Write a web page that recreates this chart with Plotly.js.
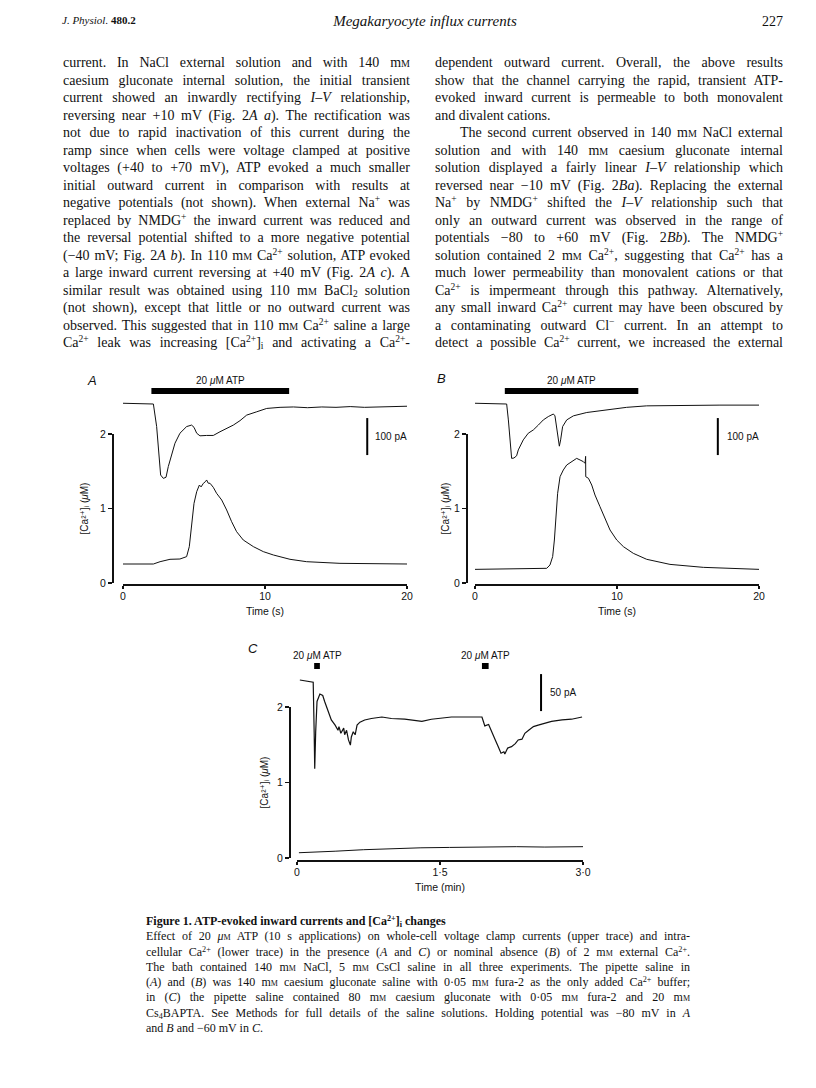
<!DOCTYPE html>
<html><head><meta charset="utf-8">
<script src="https://cdn.plot.ly/plotly-3.0.1.min.js"></script>
<style>
html,body{margin:0;padding:0;background:#fff;}
#page{position:relative;width:816px;height:1088px;overflow:hidden;background:#fff;}
#chart{position:absolute;left:0;top:0;width:816px;height:1088px;}
.txt{position:absolute;font-family:"Liberation Serif","DejaVu Serif",serif;color:#111;}
.col{font-size:14px;}
.col .ln{height:17.5px;line-height:17.5px;}
.ln{text-align:justify;text-align-last:justify;white-space:nowrap;}
.ln.last{text-align-last:left;}
.ind{text-indent:25px;}
.sc{font-variant:small-caps;}
sup,sub{font-size:0.68em;}
sup{vertical-align:0.5em;line-height:1;}
sub{vertical-align:-0.25em;line-height:1;}
.cap{font-size:12px;}
.cap .ln{height:15.3px;line-height:15.3px;}
</style></head>
<body>
<div id="page">
<div id="chart"></div>

<div class="txt" style="left:62px;top:14px;font-size:11px;"><i>J. Physiol.</i> <b>480.2</b></div>
<div class="txt" style="left:300px;top:13px;width:250px;text-align:center;font-size:15px;"><i>Megakaryocyte influx currents</i></div>
<div class="txt" style="left:700px;top:14px;width:83px;text-align:right;font-size:14px;">227</div>

<div class="txt col" style="left:63px;top:54px;width:347px;">
<div class="ln">current. In NaCl external solution and with 140 m<span class="sc">m</span></div>
<div class="ln">caesium gluconate internal solution, the initial transient</div>
<div class="ln">current showed an inwardly rectifying <i>I</i>–<i>V</i> relationship,</div>
<div class="ln">reversing near +10 mV (Fig. 2<i>A a</i>). The rectification was</div>
<div class="ln">not due to rapid inactivation of this current during the</div>
<div class="ln">ramp since when cells were voltage clamped at positive</div>
<div class="ln">voltages (+40 to +70 mV), ATP evoked a much smaller</div>
<div class="ln">initial outward current in comparison with results at</div>
<div class="ln">negative potentials (not shown). When external Na<sup>+</sup> was</div>
<div class="ln">replaced by NMDG<sup>+</sup> the inward current was reduced and</div>
<div class="ln">the reversal potential shifted to a more negative potential</div>
<div class="ln">(−40 mV; Fig. 2<i>A b</i>). In 110 m<span class="sc">m</span> Ca<sup>2+</sup> solution, ATP evoked</div>
<div class="ln">a large inward current reversing at +40 mV (Fig. 2<i>A c</i>). A</div>
<div class="ln">similar result was obtained using 110 m<span class="sc">m</span> BaCl<sub>2</sub> solution</div>
<div class="ln">(not shown), except that little or no outward current was</div>
<div class="ln">observed. This suggested that in 110 m<span class="sc">m</span> Ca<sup>2+</sup> saline a large</div>
<div class="ln">Ca<sup>2+</sup> leak was increasing [Ca<sup>2+</sup>]<sub>i</sub> and activating a Ca<sup>2+</sup>-</div>
</div>

<div class="txt col" style="left:435px;top:54px;width:348px;">
<div class="ln">dependent outward current. Overall, the above results</div>
<div class="ln">show that the channel carrying the rapid, transient ATP-</div>
<div class="ln">evoked inward current is permeable to both monovalent</div>
<div class="ln last">and divalent cations.</div>
<div class="ln ind">The second current observed in 140 m<span class="sc">m</span> NaCl external</div>
<div class="ln">solution and with 140 m<span class="sc">m</span> caesium gluconate internal</div>
<div class="ln">solution displayed a fairly linear <i>I</i>–<i>V</i> relationship which</div>
<div class="ln">reversed near −10 mV (Fig. 2<i>Ba</i>). Replacing the external</div>
<div class="ln">Na<sup>+</sup> by NMDG<sup>+</sup> shifted the <i>I</i>–<i>V</i> relationship such that</div>
<div class="ln">only an outward current was observed in the range of</div>
<div class="ln">potentials −80 to +60 mV (Fig. 2<i>Bb</i>). The NMDG<sup>+</sup></div>
<div class="ln">solution contained 2 m<span class="sc">m</span> Ca<sup>2+</sup>, suggesting that Ca<sup>2+</sup> has a</div>
<div class="ln">much lower permeability than monovalent cations or that</div>
<div class="ln">Ca<sup>2+</sup> is impermeant through this pathway. Alternatively,</div>
<div class="ln">any small inward Ca<sup>2+</sup> current may have been obscured by</div>
<div class="ln">a contaminating outward Cl<sup>−</sup> current. In an attempt to</div>
<div class="ln">detect a possible Ca<sup>2+</sup> current, we increased the external</div>
</div>

<div class="txt cap" style="left:146px;top:914px;width:544px;">
<div class="ln last"><b>Figure 1. ATP-evoked inward currents and [Ca<sup>2+</sup>]<sub>i</sub> changes</b></div>
<div class="ln">Effect of 20 <i>μ</i><span class="sc">m</span> ATP (10 s applications) on whole-cell voltage clamp currents (upper trace) and intra-</div>
<div class="ln">cellular Ca<sup>2+</sup> (lower trace) in the presence (<i>A</i> and <i>C</i>) or nominal absence (<i>B</i>) of 2 m<span class="sc">m</span> external Ca<sup>2+</sup>.</div>
<div class="ln">The bath contained 140 m<span class="sc">m</span> NaCl, 5 m<span class="sc">m</span> CsCl saline in all three experiments. The pipette saline in</div>
<div class="ln">(<i>A</i>) and (<i>B</i>) was 140 m<span class="sc">m</span> caesium gluconate saline with 0·05 m<span class="sc">m</span> fura-2 as the only added Ca<sup>2+</sup> buffer;</div>
<div class="ln">in (<i>C</i>) the pipette saline contained 80 m<span class="sc">m</span> caesium gluconate with 0·05 m<span class="sc">m</span> fura-2 and 20 m<span class="sc">m</span></div>
<div class="ln">Cs<sub>4</sub>BAPTA. See Methods for full details of the saline solutions. Holding potential was −80 mV in <i>A</i></div>
<div class="ln last">and <i>B</i> and −60 mV in <i>C</i>.</div>
</div>
</div>

<script>
// ---------- data ----------
// Panel A: membrane current (pA) and [Ca2+]i (uM) vs time (s)
const tA_i = [0, 1, 2.14, 2.37, 2.49, 2.65, 2.84, 3.03, 3.19, 3.43, 3.66, 4.01, 4.48, 4.83, 5.0, 5.19, 5.42, 5.89, 6.36, 6.83, 7.30, 7.77, 8.24, 8.71, 9.42, 10.12, 11.06, 12, 13, 14, 15, 16, 17, 18, 19, 20];
const iA   = [2, 1, 0, -61, -124, -192, -201, -198, -169, -133, -106, -79, -61, -57, -63, -79, -86, -85, -85, -75, -66, -57, -45, -30, -21, -12, -9, -8, -10, -8, -9, -7, -9, -8, -7, -6];
const tA_ca = [0, 2.14, 2.61, 3.31, 4.01, 4.48, 4.67, 4.83, 5.0, 5.19, 5.38, 5.5, 5.66, 5.8, 5.89, 6.0, 6.13, 6.36, 6.59, 6.95, 7.30, 7.65, 8.0, 8.47, 9.18, 9.88, 10.59, 11.76, 12.93, 15.28, 17.63, 20];
const caA   = [0.255, 0.255, 0.286, 0.318, 0.322, 0.354, 0.488, 0.756, 1.069, 1.226, 1.315, 1.29, 1.338, 1.36, 1.383, 1.34, 1.338, 1.284, 1.204, 1.114, 0.980, 0.823, 0.689, 0.577, 0.488, 0.421, 0.376, 0.318, 0.286, 0.264, 0.255, 0.255];
const atpA = [2.0, 11.7];

// Panel B
const tB_i = [0, 2.23, 2.35, 2.46, 2.58, 2.74, 2.93, 3.05, 3.40, 3.75, 4.11, 4.46, 4.81, 5.16, 5.52, 5.63, 5.75, 5.87, 5.94, 6.03, 6.17, 6.46, 6.93, 7.87, 9.27, 10.68, 12.09, 14.91, 17.25, 20];
const iB   = [2, 0, -43, -106, -147, -146, -140, -124, -97, -79, -70, -57, -43, -34, -27, -32, -70, -106, -114, -97, -61, -43, -32, -23, -16, -9, -5, -3, -3, -3];
const tB_ca = [0, 5.05, 5.28, 5.47, 5.59, 5.70, 5.82, 5.99, 6.22, 6.46, 6.81, 7.16, 7.40, 7.63, 7.75, 7.79, 7.80, 7.99, 8.22, 8.45, 8.80, 9.16, 9.51, 9.98, 10.45, 11.15, 12.09, 13.73, 16.08, 20];
const caB   = [0.183, 0.197, 0.242, 0.354, 0.577, 0.935, 1.204, 1.427, 1.517, 1.584, 1.629, 1.673, 1.651, 1.629, 1.606, 1.70, 1.427, 1.405, 1.315, 1.181, 1.025, 0.868, 0.711, 0.577, 0.488, 0.398, 0.318, 0.250, 0.210, 0.183];
const atpB = [2.1, 11.5];

// Panel C: time in min
const tC_i = [0.03, 0.15, 0.17, 0.18, 0.186, 0.196, 0.21, 0.24, 0.27, 0.29, 0.33, 0.36, 0.40, 0.43, 0.44, 0.46, 0.49, 0.50, 0.52, 0.54, 0.56, 0.57, 0.59, 0.61, 0.63, 0.66, 0.71, 0.78, 0.89, 0.99, 1.13, 1.31, 1.41, 1.62, 1.80, 1.94, 1.95, 1.97, 2.01, 2.04, 2.08, 2.11, 2.14, 2.17, 2.18, 2.21, 2.25, 2.29, 2.32, 2.36, 2.39, 2.43, 2.48, 2.53, 2.60, 2.67, 2.78, 2.88, 2.99];
const iC   = [0, -2, -3, -70, -120, -70, -29, -19, -21, -29, -43, -54, -61, -68, -63, -72, -65, -74, -68, -81, -88, -77, -70, -74, -61, -57, -54, -52, -50, -52, -53, -56, -53, -50, -50, -50, -54, -62, -60, -70, -81, -90, -99, -97, -100, -92, -90, -86, -81, -80, -72, -68, -63, -61, -59, -56, -54, -53, -50];
const tC_ca = [0.02, 0.2, 0.4, 0.7, 1.0, 1.3, 1.6, 1.95, 2.3, 2.6, 3.0];
const caC   = [0.07, 0.075, 0.09, 0.11, 0.125, 0.135, 0.14, 0.15, 0.15, 0.145, 0.15];
const atpC = [[0.18, 0.24], [1.94, 2.01]];

const xTicksS = [0, 10, 20];
const xTicksMin = [0, 1.5, 3.0];
const xTicksMinText = ['0', '1·5', '3·0'];
const yTicksCa = [0, 1, 2];

// ---------- layout helpers ----------
const W = 816, H = 1088;
const xf = px => px / W;
const yf = py => 1 - py / H;
const SANS = 'Liberation Sans, Arial, Helvetica, DejaVu Sans, sans-serif';
const INK = '#111';
const caTitle = '[Ca²⁺]ᵢ (<i>μ</i>M)';

function xAxis(d0, d1, rng, pos, vals, txt, title) {
  return {domain: [xf(d0), xf(d1)], range: rng, anchor: 'free', position: yf(pos),
    showline: true, linecolor: INK, linewidth: 1.6, ticks: 'outside', ticklen: 3, tickwidth: 1.4, tickcolor: INK,
    tickvals: vals, ticktext: txt, showgrid: false, zeroline: false, fixedrange: true,
    ticklabelstandoff: -1,
    tickfont: {family: SANS, size: 10.5, color: INK},
    title: {text: title, font: {family: SANS, size: 10.5, color: INK}, standoff: 6}};
}
function yAxisCa(top, bot, pos, standoff) {
  return {domain: [yf(bot), yf(top)], range: [0, 2], anchor: 'free', position: xf(pos),
    showline: true, linecolor: INK, linewidth: 1.6, ticks: 'outside', ticklen: 4, tickwidth: 1.4, tickcolor: INK,
    tickvals: yTicksCa, showgrid: false, zeroline: false, fixedrange: true,
    tickfont: {family: SANS, size: 10.5, color: INK},
    title: {text: caTitle, font: {family: SANS, size: 10, color: INK}, standoff: standoff}};
}
function yAxisI(top, bot, zeroPx, pxPerPA, xa) {
  return {domain: [yf(bot), yf(top)], range: [(zeroPx - bot) / pxPerPA, (zeroPx - top) / pxPerPA],
    visible: false, anchor: xa, fixedrange: true, showgrid: false, zeroline: false};
}
const ln = (x, y, xa, ya, w) => ({x: x, y: y, xaxis: xa, yaxis: ya, type: 'scatter', mode: 'lines',
  line: {color: INK, width: w || 1}, hoverinfo: 'skip', showlegend: false});

const data = [
  ln(tA_ca, caA, 'x', 'y'), ln(tA_i, iA, 'x', 'y2'),
  ln(tB_ca, caB, 'x2', 'y3'), ln(tB_i, iB, 'x2', 'y4'),
  ln(tC_ca, caC, 'x3', 'y5'), ln(tC_i, iC, 'x3', 'y6', 1.2)
];

const bar = (xa, x0, x1, top, bot) => ({type: 'rect', xref: xa, yref: 'paper', x0: x0, x1: x1,
  y0: yf(bot), y1: yf(top), fillcolor: '#000', line: {width: 0}});
const vbar = (xa, ya, x, y0, y1) => ({type: 'line', xref: xa, yref: ya, x0: x, x1: x, y0: y0, y1: y1,
  line: {color: '#000', width: 2}});

const shapes = [
  bar('x', atpA[0], atpA[1], 388, 394),
  bar('x2', atpB[0], atpB[1], 388, 394),
  bar('x3', atpC[0][0], atpC[0][1], 663, 669),
  bar('x3', atpC[1][0], atpC[1][1], 663, 669),
  vbar('x', 'y2', 17.2, -38, -138),
  vbar('x2', 'y4', 17.1, -38, -138),
  vbar('x3', 'y6', 2.56, 8, -42)
];

const ann = (text, x, y, xref, yref, opts) => Object.assign({text: text, x: x, y: y, xref: xref, yref: yref,
  showarrow: false, xanchor: 'center', yanchor: 'middle',
  font: {family: SANS, size: 10, color: INK}}, opts || {});

const annotations = [
  ann('<i>A</i>', xf(92), yf(380), 'paper', 'paper', {font: {family: SANS, size: 13, color: INK}}),
  ann('<i>B</i>', xf(441), yf(378), 'paper', 'paper', {font: {family: SANS, size: 13, color: INK}}),
  ann('<i>C</i>', xf(253), yf(648), 'paper', 'paper', {font: {family: SANS, size: 13, color: INK}}),
  ann('20 <i>μ</i>M ATP', (atpA[0] + atpA[1]) / 2, yf(380), 'x', 'paper'),
  ann('20 <i>μ</i>M ATP', (atpB[0] + atpB[1]) / 2, yf(381), 'x2', 'paper'),
  ann('20 <i>μ</i>M ATP', (atpC[0][0] + atpC[0][1]) / 2, yf(655), 'x3', 'paper'),
  ann('20 <i>μ</i>M ATP', (atpC[1][0] + atpC[1][1]) / 2, yf(655), 'x3', 'paper'),
  ann('100 pA', 17.6, -88, 'x', 'y2', {xanchor: 'left'}),
  ann('100 pA', 17.6, -88, 'x2', 'y4', {xanchor: 'left'}),
  ann('50 pA', 2.63, -17, 'x3', 'y6', {xanchor: 'left'})
];

const layout = {
  width: W, height: H, margin: {l: 0, r: 0, t: 0, b: 0},
  paper_bgcolor: 'rgba(0,0,0,0)', plot_bgcolor: 'rgba(0,0,0,0)',
  showlegend: false, font: {family: SANS, color: INK},
  xaxis:  xAxis(123, 407, [0, 20], 584, xTicksS, null, 'Time (s)'),
  xaxis2: xAxis(475, 759, [0, 20], 584, xTicksS, null, 'Time (s)'),
  xaxis3: xAxis(297, 583, [0, 3], 860, xTicksMin, xTicksMinText, 'Time (min)'),
  yaxis:  yAxisCa(434, 583, 112, 8),
  yaxis2: yAxisI(395, 583, 404, 0.37, 'x'),
  yaxis3: yAxisCa(434, 583, 466, 1),
  yaxis4: yAxisI(395, 583, 404, 0.37, 'x2'),
  yaxis5: yAxisCa(707, 858, 289, 5),
  yaxis6: yAxisI(665, 858, 680, 0.74, 'x3'),
  shapes: shapes, annotations: annotations
};

Plotly.newPlot('chart', data, layout, {staticPlot: true, displayModeBar: false});
</script>
</body></html>
